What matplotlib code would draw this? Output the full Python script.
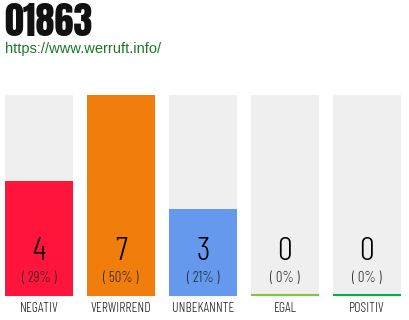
import matplotlib
matplotlib.use("Agg")
import matplotlib.pyplot as plt

categories = ["NEGATIV", "VERWIRREND", "UNBEKANNTE", "EGAL", "POSITIV"]
counts = [4, 7, 3, 0, 0]
percents = ["( 29% )", "( 50% )", "( 21% )", "( 0% )", "( 0% )"]
colors = ["#ff143c", "#f07d0c", "#6499ee", "#7ac943", "#00b33c"]
title = "01863"
url = "https://www.werruft.info/"

light = ["Barlow Condensed", "Oswald", "DejaVu Sans"]
heavy = ["Anton", "Oswald", "DejaVu Sans"]

W, H = 410, 320
fig = plt.figure(figsize=(W / 100, H / 100), dpi=100)
fig.patch.set_facecolor("white")

left, right, top, bottom = 5, 401, 95, 295
ax = fig.add_axes([left / W, 1 - bottom / H, (right - left) / W, (bottom - top) / H])
w = 68 / 82
x = list(range(len(categories)))
ymax = max(counts)
ax.bar(x, [ymax] * len(x), width=w, color="#efefef", linewidth=0)
ax.bar(x, counts, width=w, color=colors, linewidth=0)
for i, c in enumerate(colors):
    ax.plot([i - w / 2, i + w / 2], [0, 0], color=c, lw=1.5, solid_capstyle="butt", clip_on=False)
ax.set_xlim(-w / 2, len(x) - 1 + w / 2)
ax.set_ylim(0, ymax)
ax.axis("off")

for i in x:
    ax.text(i, ymax * (295 - 251.5) / 200, str(counts[i]), ha="center", va="center",
            fontsize=24, family=light, weight=300, color="#000000")
    ax.text(i, ymax * (295 - 278) / 200, percents[i], ha="center", va="center",
            fontsize=10.5, family=light, weight=300, color="#222222")
    ax.text(i, -ymax * (308 - 295) / 200, categories[i], ha="center", va="center",
            fontsize=10, family=light, weight=300, color="#222222", clip_on=False)

fig.text(4 / W, 1 - 22.5 / H, title, ha="left", va="center", fontsize=27.5,
         family=heavy, color="#111111")
fig.text(5 / W, 1 - 49 / H, url, ha="left", va="center", fontsize=10.5,
         family="Liberation Sans", color="#1a7a2a")

fig.savefig("out.png", dpi=100, facecolor="white")
